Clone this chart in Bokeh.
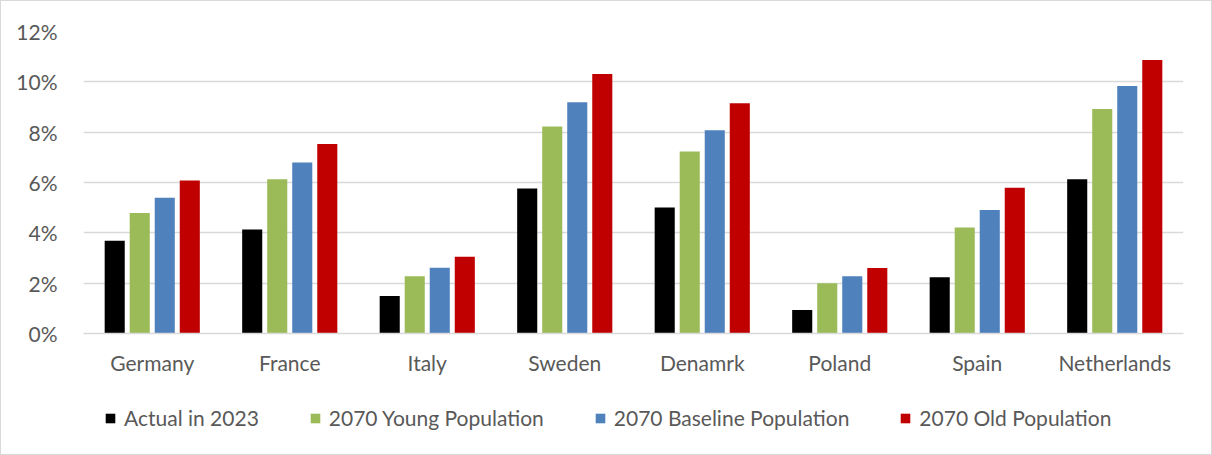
from bokeh.plotting import figure
from bokeh.layouts import column
from bokeh.models import ColumnDataSource, Legend, LegendItem, PrintfTickFormatter, FixedTicker, Range1d
from bokeh.transform import dodge
from bokeh.embed import file_html
from bokeh.resources import INLINE

countries = ["Germany", "France", "Italy", "Sweden", "Denamrk", "Poland", "Spain", "Netherlands"]
actual_2023 = [3.69, 4.13, 1.49, 5.76, 5.01, 0.93, 2.24, 6.13]
young_2070 = [4.79, 6.13, 2.27, 8.23, 7.23, 2.00, 4.21, 8.92]
baseline_2070 = [5.39, 6.79, 2.61, 9.19, 8.08, 2.27, 4.91, 9.83]
old_2070 = [6.08, 7.53, 3.05, 10.31, 9.15, 2.60, 5.79, 10.87]
series_names = ["Actual in 2023", "2070 Young Population", "2070 Baseline Population", "2070 Old Population"]
y_ticks = [0, 2, 4, 6, 8, 10, 12]

colors = ["#000000", "#9BBB59", "#4F81BD", "#C00000"]
keys = ["a", "y", "b", "o"]
offsets = [-0.273, -0.091, 0.091, 0.273]

src = ColumnDataSource(dict(x=countries, a=actual_2023, y=young_2070, b=baseline_2070, o=old_2070))

FONT = "Lato"
TXT = "#595959"

p = figure(x_range=countries, y_range=(0, 12), width=1210, height=380,
           output_backend="svg", toolbar_location=None,
           min_border_left=82, min_border_right=28, min_border_top=30, min_border_bottom=48)
p.outline_line_color = None

for k, c, off in zip(keys, colors, offsets):
    p.vbar(x=dodge("x", off, range=p.x_range), top=k, width=0.146, source=src,
           fill_color=c, line_color=None)

p.xgrid.grid_line_color = None
p.ygrid.grid_line_color = "#d9d9d9"
p.ygrid.grid_line_width = 1.5
p.yaxis.ticker = FixedTicker(ticks=y_ticks)
p.yaxis.formatter = PrintfTickFormatter(format="%d%%")
p.yaxis.axis_line_color = None
p.yaxis.major_tick_line_color = None
p.yaxis.minor_tick_line_color = None
p.yaxis.major_label_standoff = 20
p.xaxis.axis_line_color = "#d9d9d9"
p.xaxis.axis_line_width = 1.5
p.xaxis.major_tick_line_color = None
p.xaxis.major_label_standoff = 10
for ax in (p.xaxis, p.yaxis):
    ax.major_label_text_font = FONT
    ax.major_label_text_font_size = "21px"
    ax.major_label_text_color = TXT

# legend strip
lg = figure(width=1210, height=73, x_range=Range1d(0, 1), y_range=Range1d(0, 1),
            x_axis_location=None, y_axis_location=None,
            output_backend="svg", toolbar_location=None,
            min_border=0, min_border_left=0, min_border_right=0, min_border_top=0, min_border_bottom=0)
lg.grid.visible = False
lg.outline_line_color = None
dummies = [lg.vbar(x=[-5], top=[0], width=0.1, fill_color=c, line_color=None) for c in colors]
items = [LegendItem(label=n, renderers=[r]) for n, r in zip(series_names, dummies)]
legend = Legend(items=items, orientation="horizontal", location=(21, 24),
                label_text_font=FONT, label_text_font_size="21px", label_text_color=TXT,
                glyph_width=12, glyph_height=12, label_standoff=8, spacing=50,
                padding=0, margin=0, border_line_color=None, background_fill_alpha=0)
lg.add_layout(legend, "center")

layout = column(p, lg, spacing=0)
layout.styles = {"border": "1px solid #d9d9d9"}

open("out.html", "w").write(file_html(layout, INLINE))
